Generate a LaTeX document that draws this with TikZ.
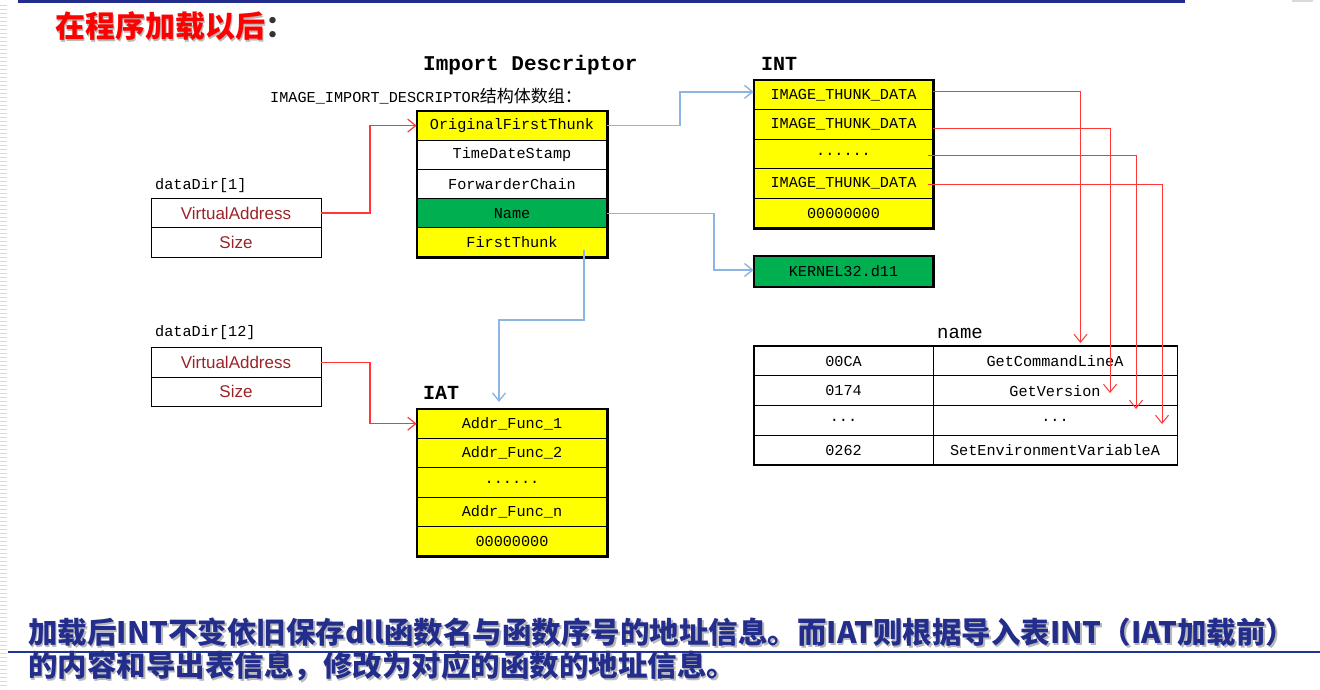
\documentclass[tikz,border=0pt]{standalone}
\usepackage{fontspec}
\usetikzlibrary{arrows.meta}
\newfontfamily\cjk{Noto Sans CJK SC}
\newfontfamily\monof{Liberation Mono}
\newfontfamily\sansf{Liberation Sans}
\definecolor{cellyellow}{RGB}{255,255,0}
\definecolor{cellgreen}{RGB}{0,176,80}
\definecolor{linkblue}{RGB}{141,180,226}
\definecolor{linkred}{RGB}{255,55,55}
\definecolor{fieldred}{RGB}{155,35,40}
\definecolor{navy}{RGB}{35,45,140}
\definecolor{ruleblue}{RGB}{30,55,150}

% text with a soft drop shadow, set as one box
\newcommand{\shadowed}[2]{\makebox[0pt][l]{\hspace{1.6pt}\raisebox{-1.6pt}{\textcolor{gray!55}{#2}}}\textcolor{#1}{#2}}

\tikzset{
  cell/.style={draw=black, line width=0.8pt, inner sep=0pt,
    font=\monof\fontsize{15.2}{15.2}\selectfont},
  descrow/.style={cell, minimum width=190pt, minimum height=29.2pt},
  introw/.style={cell, fill=cellyellow, minimum width=179pt, minimum height=29.6pt},
  iatrow/.style={cell, fill=cellyellow, minimum width=190pt, minimum height=29.4pt},
  dirrow/.style={cell, minimum width=170pt, minimum height=29.3pt,
    text=fieldred, font=\sansf\fontsize{17}{17}\selectfont},
  namecol/.style={cell, minimum width=179pt, minimum height=29.75pt},
  namecolb/.style={cell, minimum width=244pt, minimum height=29.75pt},
  frame/.style={draw=black, line width=2.2pt},
  label/.style={anchor=west, inner sep=0pt, font=\monof\fontsize{15.2}{15.2}\selectfont},
  heading/.style={anchor=west, inner sep=0pt, font=\monof\bfseries\fontsize{21}{21}\selectfont},
  bluelink/.style={draw=linkblue, line width=1.4pt, -{Straight Barb[length=8pt,width=13pt]}},
  redlink/.style={draw=linkred, line width=1.2pt, -{Straight Barb[length=8pt,width=13pt]}},
}

\begin{document}
\begin{tikzpicture}[x=1pt, y=-1pt]
\useasboundingbox (0,0) rectangle (1320,689);

% slide decoration: top rule, left edge hatch
\draw[navy, line width=3pt] (18,1) -- (1185,1);
\draw[gray!30, line width=2pt] (1292,0.5) -- (1313,0.5);
\draw[gray!30, line width=7pt, dash pattern=on 1.3pt off 2.7pt] (3.5,5) -- (3.5,689);

% title
\node[anchor=west, inner sep=0pt, font=\cjk\bfseries\fontsize{30}{30}\selectfont] (title) at (55,27) {\shadowed{red}{在程序加载以后}\textcolor{black!80}{：}};

% headings
\node[heading] (hdesc) at (423,65) {Import Descriptor};
\node[anchor=west, inner sep=0pt] (hsub) at (270,96) {\monof\fontsize{15.2}{15.2}\selectfont IMAGE\_IMPORT\_DESCRIPTOR{\cjk\fontsize{17}{17}\selectfont 结构体数组：}};
\node[heading, font=\monof\bfseries\fontsize{20}{20}\selectfont] (hint) at (761,64) {INT};
\node[heading, font=\monof\bfseries\fontsize{20}{20}\selectfont] (hiat) at (423,393) {IAT};
\node[anchor=west, inner sep=0pt, font=\monof\fontsize{19}{19}\selectfont] (hname) at (937,333) {name};

% import descriptor
\node[descrow, fill=cellyellow] (oft) at (512,125.6) {OriginalFirstThunk};
\node[descrow, fill=white]      (tds) at (512,154.8) {TimeDateStamp};
\node[descrow, fill=white]      (fwc) at (512,184.0) {ForwarderChain};
\node[descrow, fill=cellgreen]  (nm)  at (512,213.2) {Name};
\node[descrow, fill=cellyellow] (ft)  at (512,242.4) {FirstThunk};
\draw[frame] (oft.north west) rectangle (ft.south east);

% data directories
\node[label] (dd1) at (155,186) {dataDir[1]};
\node[dirrow] (dd1va) at (236,213) {VirtualAddress};
\node[dirrow] (dd1sz) at (236,242.3) {Size};
\node[label] (dd12) at (155,333) {dataDir[12]};
\node[dirrow] (dd12va) at (236,362.5) {VirtualAddress};
\node[dirrow] (dd12sz) at (236,391.8) {Size};

% INT
\node[introw] (int1) at (843.5,94.8)  {IMAGE\_THUNK\_DATA};
\node[introw] (int2) at (843.5,124.4) {IMAGE\_THUNK\_DATA};
\node[introw] (int3) at (843.5,154.0) {......};
\node[introw] (int4) at (843.5,183.6) {IMAGE\_THUNK\_DATA};
\node[introw] (int5) at (843.5,213.2) {00000000};
\draw[frame] (int1.north west) rectangle (int5.south east);

% dll name
\node[introw, fill=cellgreen] (kern) at (843.5,271.5) {KERNEL32.d11};
\draw[frame] (kern.north west) rectangle (kern.south east);

% IAT
\node[iatrow] (iat1) at (512,423.7) {Addr\_Func\_1};
\node[iatrow] (iat2) at (512,453.1) {Addr\_Func\_2};
\node[iatrow] (iat3) at (512,482.5) {......};
\node[iatrow] (iat4) at (512,511.9) {Addr\_Func\_n};
\node[iatrow] (iat5) at (512,541.3) {00000000};
\draw[frame] (iat1.north west) rectangle (iat5.south east);

% hint/name table
\node[namecol]  (n1a) at (843.5,361.0) {00CA};
\node[namecolb] (n1b) at (1055,361.0)  {GetCommandLineA};
\node[namecol]  (n2a) at (843.5,390.7) {0174};
\node[namecolb] (n2b) at (1055,390.7)  {GetVersion};
\node[namecol]  (n3a) at (843.5,420.4) {...};
\node[namecolb] (n3b) at (1055,420.4)  {...};
\node[namecol]  (n4a) at (843.5,450.1) {0262};
\node[namecolb] (n4b) at (1055,450.1)  {SetEnvironmentVariableA};
\draw[frame, line width=1.8pt] (n1a.north west) rectangle (n4b.south east);

% blue links
\draw[bluelink] (oft.east) -- (680,125.6) |- ([yshift=3pt]int1.west);
\draw[bluelink] (nm.east) -- (714,213.2) |- ([yshift=1.5pt]kern.west);
\coordinate (ftsrc) at (584,250);
\coordinate (iatin) at (499,402);
\draw[bluelink] (ftsrc) -- (584,320) -- (499,320) -- (iatin);

% red links from the data directories
\draw[redlink] (dd1va.east) -- (370,213) |- (oft.west);
\draw[redlink] (dd12va.east) -- (370,362.5) |- (iat1.west);

% red links from INT entries to the name table
\coordinate (s1) at (933,91);
\coordinate (s2) at (933,128.3);
\coordinate (s3) at (928,155.7);
\coordinate (s4) at (928,184.5);
\coordinate (t1) at (1080.5,343);
\coordinate (t2) at (1110,393);
\coordinate (t3) at (1136,409);
\coordinate (t4) at (1162,424);
\draw[redlink, line width=1pt] (s1) -| (t1);
\draw[redlink, line width=1pt] (s2) -| (t2);
\draw[redlink, line width=1pt] (s3) -| (t3);
\draw[redlink, line width=1pt] (s4) -| (t4);

% explanation
\draw[ruleblue, line width=1.6pt] (8,652) -- (1320,652);
\begin{scope}[every node/.style={anchor=west, inner sep=0pt, font=\cjk\bfseries\fontsize{29.5}{29.5}\selectfont}]
\node (note1) at (28,633) {\shadowed{navy}{加载后INT不变依旧保存dll函数名与函数序号的地址信息。而IAT则根据导入表INT（IAT加载前）}};
\node (note2) at (28,667) {\shadowed{navy}{的内容和导出表信息，修改为对应的函数的地址信息。}};
\end{scope}
\end{tikzpicture}
\end{document}
